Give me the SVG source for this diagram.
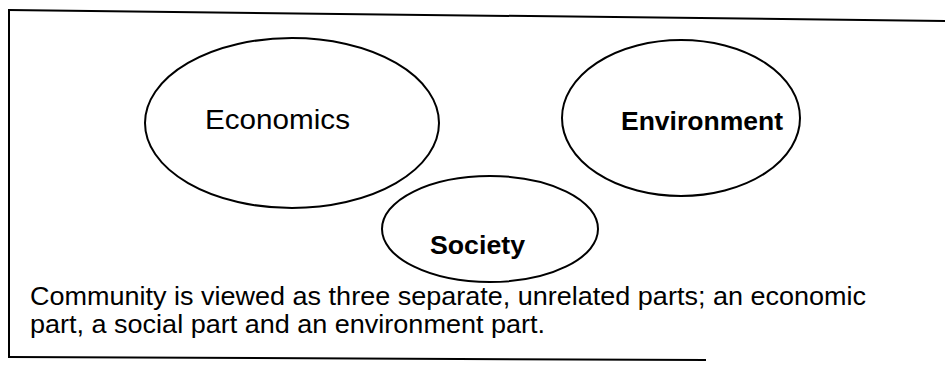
<svg xmlns="http://www.w3.org/2000/svg" width="945" height="372" viewBox="0 0 945 372">
<style>
.frame{fill:none;stroke:#000;stroke-width:2;stroke-linecap:square}
.node ellipse{fill:none;stroke:#000;stroke-width:2}
.lbl{font-family:"Liberation Sans",Arial,sans-serif;fill:#000}
</style>
<rect width="945" height="372" fill="#fff"/>
<g id="frame">
<path class="frame" d="M9,10 L945,21"/>
<path class="frame" d="M9,10 L9,357"/>
<path class="frame" d="M9,357 L705,360"/>
</g>
<g id="connectors"></g>
<g id="economics" class="node">
<ellipse cx="292" cy="123" rx="147" ry="85"/>
<text class="lbl" x="205" y="129" font-size="28" textLength="145" lengthAdjust="spacingAndGlyphs">Economics</text>
</g>
<g id="environment" class="node">
<ellipse cx="681" cy="118" rx="119" ry="78"/>
<text class="lbl" x="621" y="130" font-size="25" font-weight="bold" textLength="162" lengthAdjust="spacingAndGlyphs">Environment</text>
</g>
<g id="society" class="node">
<ellipse cx="490" cy="229" rx="108" ry="53"/>
<text class="lbl" x="430" y="254" font-size="25" font-weight="bold" textLength="95" lengthAdjust="spacingAndGlyphs">Society</text>
</g>
<g id="caption">
<text class="lbl" x="30" y="305" font-size="26" textLength="836" lengthAdjust="spacingAndGlyphs">Community is viewed as three separate, unrelated parts; an economic</text>
<text class="lbl" x="30" y="333" font-size="26" textLength="515" lengthAdjust="spacingAndGlyphs">part, a social part and an environment part.</text>
</g>
</svg>
